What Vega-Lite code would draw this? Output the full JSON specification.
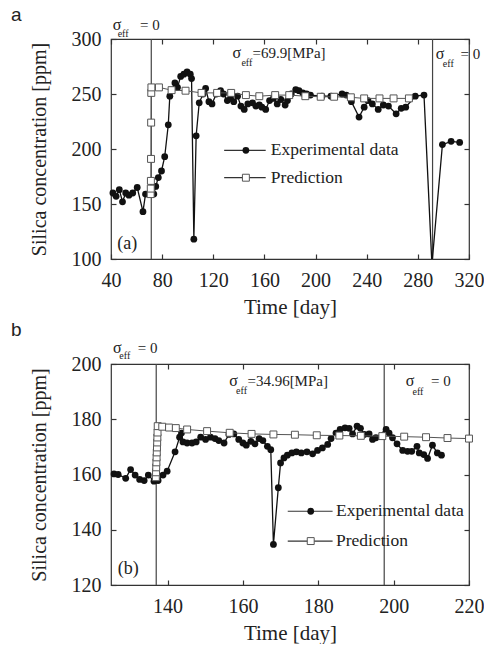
{
  "$schema": "https://vega.github.io/schema/vega-lite/v6.json",
  "background": "white",
  "padding": {"left": 10, "top": 5, "right": 5, "bottom": 0},
  "spacing": 2,
  "config": {
    "font": "Liberation Serif",
    "view": {"stroke": "#333", "strokeWidth": 1.2},
    "axis": {
      "labelFont": "Liberation Serif", "titleFont": "Liberation Serif",
      "labelFontSize": 20, "titleFontSize": 21, "titleFontWeight": "normal",
      "labelColor": "#222", "titleColor": "#222", "grid": false, "domain": false,
      "tickColor": "#333", "tickSize": -5, "tickWidth": 1.2, "labelFlush": false, "labelOverlap": false
    },
    "axisX": {"labelPadding": 16, "titlePadding": 6},
    "axisY": {"titleFontSize": 20, "labelPadding": 15, "titlePadding": 22},
    "title": {"font": "Liberation Sans", "fontSize": 19, "fontWeight": "normal", "color": "#222"}
  },
  "datasets": {
    "expA": [
      {"day": 41.5, "ppm": 160}, {"day": 44, "ppm": 157}, {"day": 46.5, "ppm": 163}, {"day": 49, "ppm": 152},
      {"day": 51.5, "ppm": 160}, {"day": 54, "ppm": 158}, {"day": 57, "ppm": 160}, {"day": 60.5, "ppm": 165},
      {"day": 65, "ppm": 143}, {"day": 67, "ppm": 159}, {"day": 73.5, "ppm": 159}, {"day": 75, "ppm": 166},
      {"day": 77, "ppm": 174}, {"day": 79.5, "ppm": 180}, {"day": 82, "ppm": 193}, {"day": 84.8, "ppm": 222},
      {"day": 86, "ppm": 248}, {"day": 90, "ppm": 260}, {"day": 92, "ppm": 256}, {"day": 94.5, "ppm": 266},
      {"day": 97, "ppm": 268}, {"day": 99.5, "ppm": 270}, {"day": 102, "ppm": 268}, {"day": 103, "ppm": 264},
      {"day": 104.8, "ppm": 118}, {"day": 106.6, "ppm": 212}, {"day": 109, "ppm": 242}, {"day": 112, "ppm": 250},
      {"day": 114, "ppm": 255}, {"day": 116.6, "ppm": 243}, {"day": 119, "ppm": 241}, {"day": 122.3, "ppm": 250},
      {"day": 125.7, "ppm": 253}, {"day": 128, "ppm": 250}, {"day": 131, "ppm": 244}, {"day": 133.5, "ppm": 246},
      {"day": 136, "ppm": 243}, {"day": 139, "ppm": 248}, {"day": 141.6, "ppm": 239}, {"day": 144.2, "ppm": 236},
      {"day": 147, "ppm": 241}, {"day": 150.7, "ppm": 242}, {"day": 153.3, "ppm": 239}, {"day": 156, "ppm": 240},
      {"day": 158, "ppm": 238}, {"day": 161, "ppm": 236}, {"day": 164, "ppm": 244}, {"day": 167, "ppm": 246},
      {"day": 170, "ppm": 241}, {"day": 172.8, "ppm": 245}, {"day": 176.2, "ppm": 240}, {"day": 178, "ppm": 244},
      {"day": 181, "ppm": 250}, {"day": 184.5, "ppm": 254}, {"day": 187, "ppm": 253}, {"day": 190, "ppm": 251},
      {"day": 193, "ppm": 250}, {"day": 196, "ppm": 249}, {"day": 205, "ppm": 248}, {"day": 212, "ppm": 248},
      {"day": 220.7, "ppm": 250}, {"day": 224, "ppm": 249}, {"day": 228, "ppm": 243}, {"day": 234, "ppm": 229},
      {"day": 238, "ppm": 238}, {"day": 241, "ppm": 244}, {"day": 244.4, "ppm": 241}, {"day": 249, "ppm": 236},
      {"day": 253, "ppm": 240}, {"day": 257, "ppm": 239}, {"day": 263, "ppm": 232}, {"day": 267, "ppm": 237},
      {"day": 270.5, "ppm": 238}, {"day": 278, "ppm": 248}, {"day": 284.8, "ppm": 249}, {"day": 291, "ppm": 95},
      {"day": 299.2, "ppm": 204}, {"day": 306, "ppm": 207}, {"day": 312.7, "ppm": 206}
    ],
    "predA": [
      {"day": 71.0, "ppm": 159}, {"day": 71.1, "ppm": 164}, {"day": 71.2, "ppm": 171}, {"day": 71.3, "ppm": 191},
      {"day": 71.4, "ppm": 224}, {"day": 71.5, "ppm": 251}, {"day": 71.6, "ppm": 256}, {"day": 77.5, "ppm": 256},
      {"day": 87.4, "ppm": 253.5}, {"day": 98.3, "ppm": 253}, {"day": 110.8, "ppm": 251}, {"day": 123, "ppm": 251},
      {"day": 134, "ppm": 251}, {"day": 145.5, "ppm": 249}, {"day": 156, "ppm": 248}, {"day": 168.4, "ppm": 249},
      {"day": 179.4, "ppm": 249}, {"day": 192, "ppm": 248}, {"day": 204, "ppm": 247.5}, {"day": 214.5, "ppm": 247.5},
      {"day": 227.6, "ppm": 247}, {"day": 238, "ppm": 246}, {"day": 250, "ppm": 246}, {"day": 261, "ppm": 246},
      {"day": 273, "ppm": 246}
    ],
    "vA": [{"day": 71.5}, {"day": 291.5}],
    "legA": [
      {"x1": 128.5, "x2": 161, "xm": 145.5, "xt": 165, "ppm": 198.8, "label": "Experimental data", "series": "exp"},
      {"x1": 128.5, "x2": 161, "xm": 145.5, "xt": 165, "ppm": 173.9, "label": "Prediction", "series": "pred"}
    ],
    "annA": [
      {"day": 41.3, "ppm": 313, "t": "σ", "k": "s"}, {"day": 45.2, "ppm": 305, "t": "eff", "k": "e"}, {"day": 62.7, "ppm": 313, "t": "= 0", "k": "r"},
      {"day": 135, "ppm": 287.5, "t": "σ", "k": "s"}, {"day": 142, "ppm": 278.5, "t": "eff", "k": "e"}, {"day": 150.7, "ppm": 287.5, "t": "=69.9[MPa]", "k": "r"},
      {"day": 294, "ppm": 286, "t": "σ", "k": "s"}, {"day": 299.5, "ppm": 277, "t": "eff", "k": "e"}, {"day": 313.4, "ppm": 286, "t": "= 0", "k": "r"},
      {"day": 44.9, "ppm": 113.4, "t": "(a)", "k": "p"}
    ],
    "expB": [
      {"day": 125.8, "ppm": 160.2}, {"day": 126.9, "ppm": 160}, {"day": 128.9, "ppm": 158.6}, {"day": 130.2, "ppm": 161.8},
      {"day": 131.4, "ppm": 159.8}, {"day": 132.6, "ppm": 158.2}, {"day": 133.8, "ppm": 157.8}, {"day": 134.9, "ppm": 159.8},
      {"day": 136.4, "ppm": 157.6}, {"day": 137.5, "ppm": 157.8}, {"day": 138.8, "ppm": 159.8}, {"day": 139.9, "ppm": 161.2},
      {"day": 142, "ppm": 168.2}, {"day": 143.2, "ppm": 173.5}, {"day": 143.7, "ppm": 175}, {"day": 144.1, "ppm": 171.8},
      {"day": 145.2, "ppm": 171.4}, {"day": 146.5, "ppm": 171.4}, {"day": 147.6, "ppm": 171.8}, {"day": 148.8, "ppm": 173.5},
      {"day": 150.1, "ppm": 172.7}, {"day": 151.4, "ppm": 173.5}, {"day": 152.6, "ppm": 173}, {"day": 153.6, "ppm": 172.3},
      {"day": 155, "ppm": 171.4}, {"day": 156.3, "ppm": 174.5}, {"day": 157.6, "ppm": 174.7}, {"day": 158.9, "ppm": 172.7},
      {"day": 160, "ppm": 171.4}, {"day": 160.9, "ppm": 170.6}, {"day": 162.1, "ppm": 172}, {"day": 163.2, "ppm": 171.1},
      {"day": 164.3, "ppm": 173}, {"day": 165.3, "ppm": 172.3}, {"day": 166.5, "ppm": 170.2}, {"day": 167.4, "ppm": 169},
      {"day": 168.1, "ppm": 134.7}, {"day": 169.4, "ppm": 155.2}, {"day": 170, "ppm": 164.2}, {"day": 170.9, "ppm": 166},
      {"day": 171.8, "ppm": 167}, {"day": 173, "ppm": 167.8}, {"day": 174.2, "ppm": 168.2}, {"day": 175.5, "ppm": 167.8},
      {"day": 177, "ppm": 168.2}, {"day": 178.5, "ppm": 167.5}, {"day": 179.8, "ppm": 168.7}, {"day": 181.1, "ppm": 169.6},
      {"day": 182.5, "ppm": 170.9}, {"day": 183.4, "ppm": 173}, {"day": 184.7, "ppm": 175}, {"day": 185.8, "ppm": 176.3},
      {"day": 187.1, "ppm": 176.9}, {"day": 188.2, "ppm": 176.7}, {"day": 189.1, "ppm": 174.7}, {"day": 190.3, "ppm": 177.5},
      {"day": 191.2, "ppm": 176.7}, {"day": 192.2, "ppm": 174.5}, {"day": 193.5, "ppm": 174.7}, {"day": 194.4, "ppm": 172.7},
      {"day": 195.3, "ppm": 173.3}, {"day": 198, "ppm": 176.3}, {"day": 198.8, "ppm": 175}, {"day": 199.7, "ppm": 173.3},
      {"day": 200.9, "ppm": 171.1}, {"day": 202.4, "ppm": 168.7}, {"day": 203.7, "ppm": 168.4}, {"day": 204.8, "ppm": 168.4},
      {"day": 206.2, "ppm": 170.2}, {"day": 206.8, "ppm": 167.8}, {"day": 208, "ppm": 167.2}, {"day": 209, "ppm": 165.8},
      {"day": 210.3, "ppm": 170.6}, {"day": 211.6, "ppm": 167.8}, {"day": 212.7, "ppm": 167}
    ],
    "predB": [
      {"day": 136.9, "ppm": 159}, {"day": 136.95, "ppm": 160.8}, {"day": 137.0, "ppm": 162.6}, {"day": 137.05, "ppm": 164.4},
      {"day": 137.1, "ppm": 166.2}, {"day": 137.15, "ppm": 168}, {"day": 137.2, "ppm": 169.8}, {"day": 137.25, "ppm": 171.6},
      {"day": 137.3, "ppm": 173.4}, {"day": 137.35, "ppm": 175.2}, {"day": 137.4, "ppm": 177.5}, {"day": 138.6, "ppm": 177.3},
      {"day": 140.4, "ppm": 177}, {"day": 142.2, "ppm": 176.8}, {"day": 145.2, "ppm": 176.3}, {"day": 150.5, "ppm": 175.7},
      {"day": 156.5, "ppm": 175.1}, {"day": 162.3, "ppm": 174.7}, {"day": 168.1, "ppm": 174.5}, {"day": 173.8, "ppm": 174.4},
      {"day": 179.6, "ppm": 174.2}, {"day": 185.6, "ppm": 174.1}, {"day": 191.3, "ppm": 174}, {"day": 197, "ppm": 173.9},
      {"day": 202.8, "ppm": 173.7}, {"day": 208.6, "ppm": 173.5}, {"day": 214.3, "ppm": 173.2}, {"day": 220, "ppm": 173}
    ],
    "vB": [{"day": 137}, {"day": 197.5}],
    "legB": [
      {"x1": 171.9, "x2": 183.8, "xm": 178, "xt": 184.7, "ppm": 146.7, "label": "Experimental data", "series": "exp"},
      {"x1": 171.9, "x2": 183.8, "xm": 178, "xt": 184.7, "ppm": 135.9, "label": "Prediction", "series": "pred"}
    ],
    "annB": [
      {"day": 125.5, "ppm": 205.8, "t": "σ", "k": "s"}, {"day": 127.2, "ppm": 202.8, "t": "eff", "k": "e"}, {"day": 132.1, "ppm": 205.8, "t": "= 0", "k": "r"},
      {"day": 156.4, "ppm": 193.7, "t": "σ", "k": "s"}, {"day": 158.2, "ppm": 190.1, "t": "eff", "k": "e"}, {"day": 161.2, "ppm": 193.7, "t": "=34.96[MPa]", "k": "r"},
      {"day": 203.2, "ppm": 193.7, "t": "σ", "k": "s"}, {"day": 205, "ppm": 190, "t": "eff", "k": "e"}, {"day": 209.9, "ppm": 193.7, "t": "= 0", "k": "r"},
      {"day": 126.8, "ppm": 125.7, "t": "(b)", "k": "p"}
    ]
  },
  "vconcat": [
    {
      "width": 358, "height": 220,
      "title": {"text": "a", "anchor": "start", "frame": "group", "dx": -100, "offset": -8},
      "layer": [
        {
          "encoding": {
            "x": {"field": "day", "type": "quantitative", "scale": {"domain": [40, 320], "nice": false},
                  "axis": {"values": [40, 80, 120, 160, 200, 240, 280, 320], "title": "Time [day]"}},
            "y": {"field": "ppm", "type": "quantitative", "scale": {"domain": [100, 300], "nice": false},
                  "axis": {"values": [100, 150, 200, 250, 300], "title": "Silica concentration [ppm]"}}
          },
          "layer": [
            {"data": {"name": "vA"}, "mark": {"type": "rule", "color": "#444", "strokeWidth": 1.2}, "encoding": {"y": null}},
            {"data": {"name": "expA"}, "mark": {"type": "line", "color": "#111", "strokeWidth": 1.3, "clip": true}},
            {"data": {"name": "expA"}, "transform": [{"filter": "datum.ppm >= 100"}], "mark": {"type": "point", "filled": true, "color": "#111", "size": 46, "opacity": 1}},
            {"data": {"name": "predA"}, "mark": {"type": "line", "color": "#555", "strokeWidth": 1}},
            {"data": {"name": "predA"}, "mark": {"type": "point", "shape": "square", "filled": true, "fill": "white", "stroke": "#555", "strokeWidth": 1, "size": 48, "opacity": 1}},
            {"data": {"name": "legA"}, "mark": {"type": "rule", "color": "#333", "strokeWidth": 1.2},
             "encoding": {"x": {"field": "x1", "type": "quantitative"}, "x2": {"field": "x2"}}},
            {"data": {"name": "legA"}, "transform": [{"filter": "datum.series == 'exp'"}], "mark": {"type": "point", "filled": true, "color": "#111", "size": 46, "opacity": 1},
             "encoding": {"x": {"field": "xm", "type": "quantitative"}}},
            {"data": {"name": "legA"}, "transform": [{"filter": "datum.series == 'pred'"}], "mark": {"type": "point", "shape": "square", "filled": true, "fill": "white", "stroke": "#555", "strokeWidth": 1, "size": 48, "opacity": 1},
             "encoding": {"x": {"field": "xm", "type": "quantitative"}}},
            {"data": {"name": "legA"}, "mark": {"type": "text", "align": "left", "baseline": "middle", "fontSize": 17.5, "color": "#222"},
             "encoding": {"x": {"field": "xt", "type": "quantitative"}, "text": {"field": "label"}}},
            {"data": {"name": "annA"}, "transform": [{"filter": "datum.k == 's'"}], "mark": {"type": "text", "align": "left", "baseline": "middle", "fontSize": 16, "color": "#222"}, "encoding": {"text": {"field": "t"}}},
            {"data": {"name": "annA"}, "transform": [{"filter": "datum.k == 'e'"}], "mark": {"type": "text", "align": "left", "baseline": "middle", "fontSize": 10, "color": "#222"}, "encoding": {"text": {"field": "t"}}},
            {"data": {"name": "annA"}, "transform": [{"filter": "datum.k == 'r'"}], "mark": {"type": "text", "align": "left", "baseline": "middle", "fontSize": 15, "color": "#222"}, "encoding": {"text": {"field": "t"}}},
            {"data": {"name": "annA"}, "transform": [{"filter": "datum.k == 'p'"}], "mark": {"type": "text", "align": "left", "baseline": "middle", "fontSize": 18, "color": "#222"}, "encoding": {"text": {"field": "t"}}}
          ]
        },
        {
          "data": {"name": "vA"},
          "mark": {"type": "point", "opacity": 0},
          "encoding": {
            "x": {"field": "day", "type": "quantitative", "scale": {"domain": [40, 320], "nice": false},
                  "axis": {"orient": "top", "values": [40, 80, 120, 160, 200, 240, 280, 320], "labels": false, "title": null}},
            "y": {"datum": 200, "type": "quantitative", "scale": {"domain": [100, 300], "nice": false},
                  "axis": {"orient": "right", "values": [100, 150, 200, 250, 300], "labels": false, "title": null}}
          }
        }
      ],
      "resolve": {"axis": {"x": "independent", "y": "independent"}}
    },
    {
      "width": 358, "height": 221,
      "title": {"text": "b", "anchor": "start", "frame": "group", "dx": -100, "offset": 0},
      "layer": [
        {
          "encoding": {
            "x": {"field": "day", "type": "quantitative", "scale": {"domain": [125, 220], "nice": false},
                  "axis": {"values": [140, 160, 180, 200, 220], "title": "Time [day]"}},
            "y": {"field": "ppm", "type": "quantitative", "scale": {"domain": [120, 200], "nice": false},
                  "axis": {"values": [120, 140, 160, 180, 200], "title": "Silica concentration [ppm]"}}
          },
          "layer": [
            {"data": {"name": "vB"}, "mark": {"type": "rule", "color": "#444", "strokeWidth": 1.2}, "encoding": {"y": null}},
            {"data": {"name": "expB"}, "mark": {"type": "line", "color": "#111", "strokeWidth": 1.3, "clip": true}},
            {"data": {"name": "expB"}, "mark": {"type": "point", "filled": true, "color": "#111", "size": 46, "opacity": 1}},
            {"data": {"name": "predB"}, "mark": {"type": "line", "color": "#555", "strokeWidth": 1}},
            {"data": {"name": "predB"}, "mark": {"type": "point", "shape": "square", "filled": true, "fill": "white", "stroke": "#555", "strokeWidth": 1, "size": 48, "opacity": 1}},
            {"data": {"name": "legB"}, "mark": {"type": "rule", "color": "#333", "strokeWidth": 1.2},
             "encoding": {"x": {"field": "x1", "type": "quantitative"}, "x2": {"field": "x2"}}},
            {"data": {"name": "legB"}, "transform": [{"filter": "datum.series == 'exp'"}], "mark": {"type": "point", "filled": true, "color": "#111", "size": 46, "opacity": 1},
             "encoding": {"x": {"field": "xm", "type": "quantitative"}}},
            {"data": {"name": "legB"}, "transform": [{"filter": "datum.series == 'pred'"}], "mark": {"type": "point", "shape": "square", "filled": true, "fill": "white", "stroke": "#555", "strokeWidth": 1, "size": 48, "opacity": 1},
             "encoding": {"x": {"field": "xm", "type": "quantitative"}}},
            {"data": {"name": "legB"}, "mark": {"type": "text", "align": "left", "baseline": "middle", "fontSize": 17.5, "color": "#222"},
             "encoding": {"x": {"field": "xt", "type": "quantitative"}, "text": {"field": "label"}}},
            {"data": {"name": "annB"}, "transform": [{"filter": "datum.k == 's'"}], "mark": {"type": "text", "align": "left", "baseline": "middle", "fontSize": 16, "color": "#222"}, "encoding": {"text": {"field": "t"}}},
            {"data": {"name": "annB"}, "transform": [{"filter": "datum.k == 'e'"}], "mark": {"type": "text", "align": "left", "baseline": "middle", "fontSize": 10, "color": "#222"}, "encoding": {"text": {"field": "t"}}},
            {"data": {"name": "annB"}, "transform": [{"filter": "datum.k == 'r'"}], "mark": {"type": "text", "align": "left", "baseline": "middle", "fontSize": 15, "color": "#222"}, "encoding": {"text": {"field": "t"}}},
            {"data": {"name": "annB"}, "transform": [{"filter": "datum.k == 'p'"}], "mark": {"type": "text", "align": "left", "baseline": "middle", "fontSize": 18, "color": "#222"}, "encoding": {"text": {"field": "t"}}}
          ]
        },
        {
          "data": {"name": "vB"},
          "mark": {"type": "point", "opacity": 0},
          "encoding": {
            "x": {"field": "day", "type": "quantitative", "scale": {"domain": [125, 220], "nice": false},
                  "axis": {"orient": "top", "values": [140, 160, 180, 200, 220], "labels": false, "title": null}},
            "y": {"datum": 160, "type": "quantitative", "scale": {"domain": [120, 200], "nice": false},
                  "axis": {"orient": "right", "values": [120, 140, 160, 180, 200], "labels": false, "title": null}}
          }
        }
      ],
      "resolve": {"axis": {"x": "independent", "y": "independent"}}
    }
  ]
}
